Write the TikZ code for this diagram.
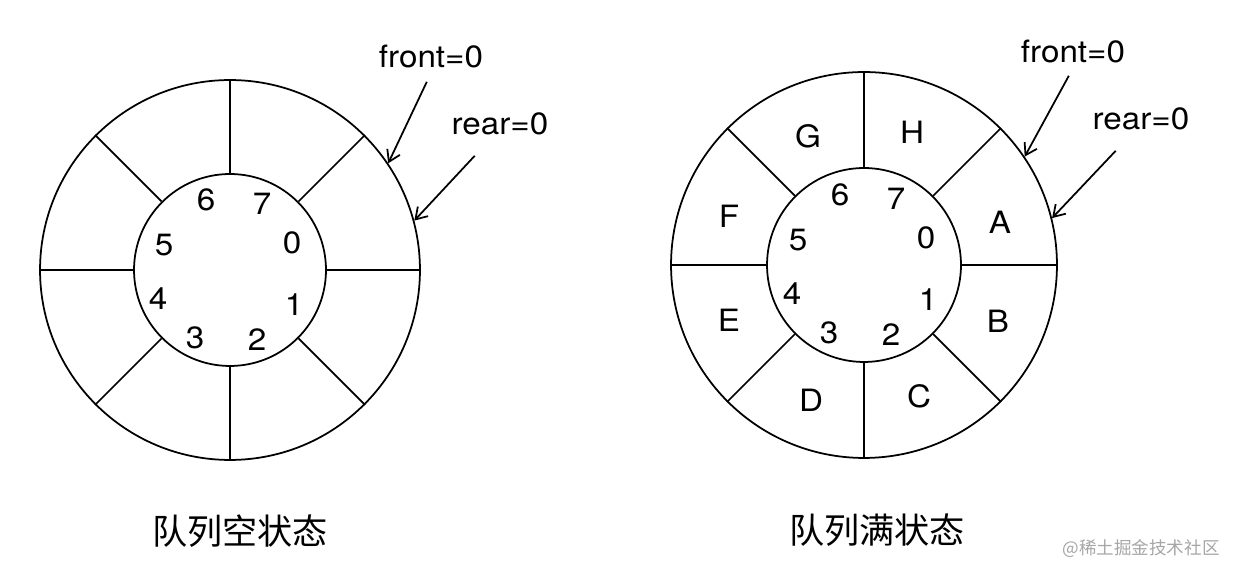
\documentclass[tikz,border=0pt]{standalone}
\usepackage{fontspec}
\setmainfont{TeX Gyre Heros}[FakeStretch=1.08]
\newfontfamily\cjk{Noto Sans CJK SC}
\usetikzlibrary{positioning, calc}
\usetikzlibrary{arrows.meta}

\begin{document}
\begin{tikzpicture}[
  x=0.02cm, y=0.02cm,
  every node/.style={font=\fontsize{17.5}{19}\selectfont},
  ring/.style={draw, circle, inner sep=0pt, line width=1pt},
  spoke/.style={line width=1pt},
  ptr/.style={line width=1pt, -{Straight Barb[length=2.2mm,width=2.8mm]}},
  cifra/.style={inner sep=0pt},
  lettera/.style={inner sep=0pt},
  etichetta/.style={anchor=base, inner sep=0pt},
  didascalia/.style={font=\cjk\fontsize{20}{24}\selectfont}
]
  \useasboundingbox (0,0) rectangle (1240,577);

  % --- coda vuota ---
  \coordinate (lc) at (230,307);
  \node[ring, minimum size=7.6cm] (lout) at (lc) {};
  \node[ring, minimum size=3.84cm] (lin) at (lc) {};
  \foreach \a in {0,45,...,315}
    \draw[spoke] (lin.\a) -- (lout.\a);
  \foreach \d/\dx/\dy in {0/62/27, 1/64/-35, 2/27/-70, 3/-35/-68,
                          4/-72/-29, 5/-66/25, 6/-24/70, 7/32/66}
    \node[cifra] (l\d) at ($(lc)+(\dx,\dy)$) {\d};
  \node[etichetta] (lfront) at (431,509) {front=0};
  \node[etichetta] (lrear) at (500,442) {rear=0};
  \draw[ptr] ($(lfront.south west)!.46!(lfront.south east)+(0,-13)$) -- (lout.34);
  \draw[ptr] ($(lrear.south west)!.24!(lrear.south east)+(0,-20)$) -- (lout.15);
  \node[didascalia] (lcap) at (240,46) {队列空状态};

  % --- coda piena ---
  \coordinate (rc) at (864,312);
  \node[ring, minimum size=7.72cm] (rout) at (rc) {};
  \node[ring, minimum size=3.88cm] (rin) at (rc) {};
  \foreach \a in {0,45,...,315}
    \draw[spoke] (rin.\a) -- (rout.\a);
  \foreach \d/\dx/\dy in {0/62/27, 1/64/-35, 2/27/-70, 3/-35/-68,
                          4/-72/-29, 5/-66/25, 6/-24/70, 7/32/66}
    \node[cifra] (r\d) at ($(rc)+(\dx,\dy)$) {\d};
  \foreach \t/\dx/\dy in {A/136/43, B/134/-56, C/55/-131, D/-53/-135,
                          E/-135/-55, F/-135/49, G/-56/129, H/48/133}
    \node[lettera] (r\t) at ($(rc)+(\dx,\dy)$) {\t};
  \node[etichetta] (rfront) at (1073,514) {front=0};
  \node[etichetta] (rrear) at (1141,447) {rear=0};
  \draw[ptr] ($(rfront.south west)!.46!(rfront.south east)+(0,-12)$) -- (rout.34);
  \draw[ptr] ($(rrear.south west)!.24!(rrear.south east)+(0,-20)$) -- (rout.14);
  \node[didascalia] (rcap) at (877,47) {队列满状态};

  % marchio
  \node[font=\cjk\fontsize{10}{12}\selectfont, text=gray!70] (marchio) at (1141,28) {@稀土掘金技术社区};
\end{tikzpicture}
\end{document}
